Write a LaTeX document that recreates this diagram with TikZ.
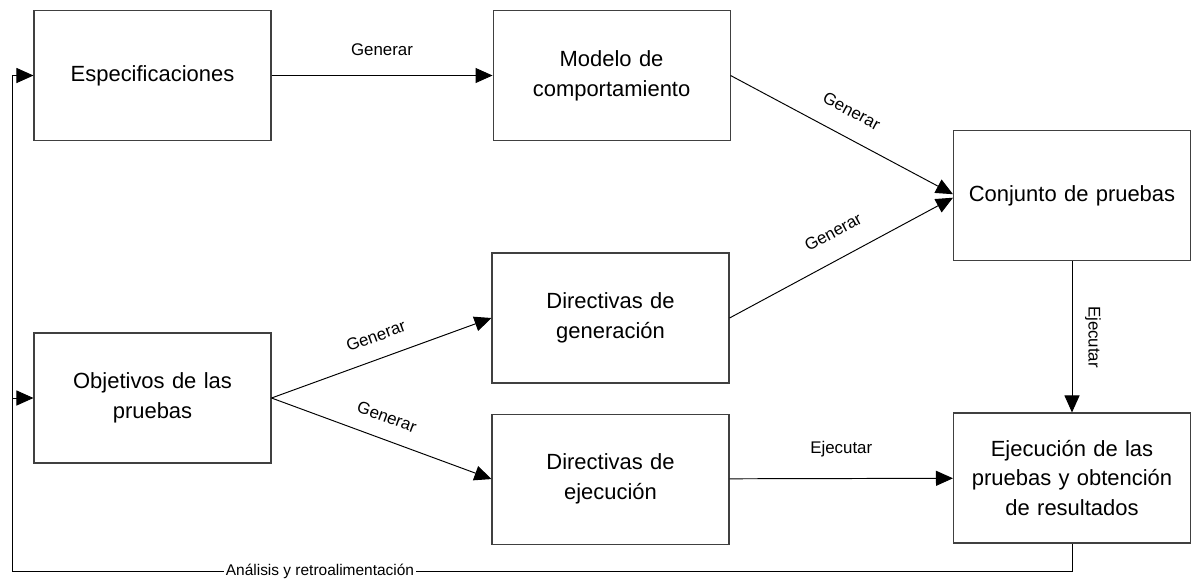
\documentclass[tikz,border=0pt]{standalone}
\usepackage{fontspec}
\setmainfont{Liberation Sans}
\usetikzlibrary{calc}
\usetikzlibrary{positioning}
\usetikzlibrary{arrows.meta}
\tikzstyle{arrow} = [line width=0.55pt,-{Triangle[length=0.34cm,width=0.3cm]}]
\tikzstyle{lbl} = [font=\fontsize{9.6}{11}\selectfont, inner sep=1pt]

\begin{document}
\begin{tikzpicture}[
    procnode/.style={rectangle, draw=black!75, line width=0.6pt, minimum width=4.74cm, minimum height=2.6cm,
    text width=4.5cm, align=center, font=\fontsize{12.5}{17}\selectfont
    }
]
    \useasboundingbox (0,0) rectangle (23.82,-11.62);

    \node[procnode] (espec) at (3.05,-1.51) {Especificaciones};
    \node[procnode] (modelo) [right=4.42cm of espec] {Modelo de\\comportamiento};
    \node[procnode] (objetivos) at (3.05,-7.96) {Objetivos de las\\pruebas};
    \node[procnode] (dirgen) at (12.21,-6.36) {Directivas de\\generación};
    \node[procnode] (direje) [below=0.6cm of dirgen] {Directivas de\\ejecución};
    \node[procnode] (ejec) at (21.44,-9.56) {Ejecución de las\\pruebas y obtención\\de resultados};
    \node[procnode] (conjunto) [above=3.02cm of ejec] {Conjunto de pruebas};

    \draw[arrow] (espec) -- node[lbl, above=0.36cm] {Generar} (modelo);
    \draw[arrow] (modelo.east) -- node[lbl, sloped, above=0.35cm, pos=0.49] {Generar} ([yshift=1pt]conjunto.west);
    \draw[arrow] (dirgen.east) -- node[lbl, sloped, above=0.37cm, pos=0.52] {Generar} ([yshift=-1pt]conjunto.west);
    \draw[arrow] (objetivos.east) -- node[lbl, sloped, above=0.29cm, pos=0.51] {Generar} (dirgen.west);
    \draw[arrow] (objetivos.east) -- node[lbl, sloped, above=0.28cm, pos=0.49] {Generar} (direje.west);
    \draw[arrow] (direje) -- node[lbl, above=0.38cm] {Ejecutar} (ejec);
    \draw[arrow] (conjunto) -- node[lbl, midway, xshift=0.42cm, rotate=-90] {Ejecutar} (ejec);

    % realimentacion
    \coordinate (fbcorner) at (0.24,-11.42);
    \draw[line width=0.55pt] (ejec.south) |- (fbcorner);
    \node[lbl, fill=white, font=\fontsize{8.8}{10}\selectfont] (fbtext) at (6.4,-11.42) {Análisis y retroalimentación};
    \draw[arrow] (fbcorner) |- (espec.west);
    \draw[arrow] (fbcorner) |- (objetivos.west);
\end{tikzpicture}
\end{document}
